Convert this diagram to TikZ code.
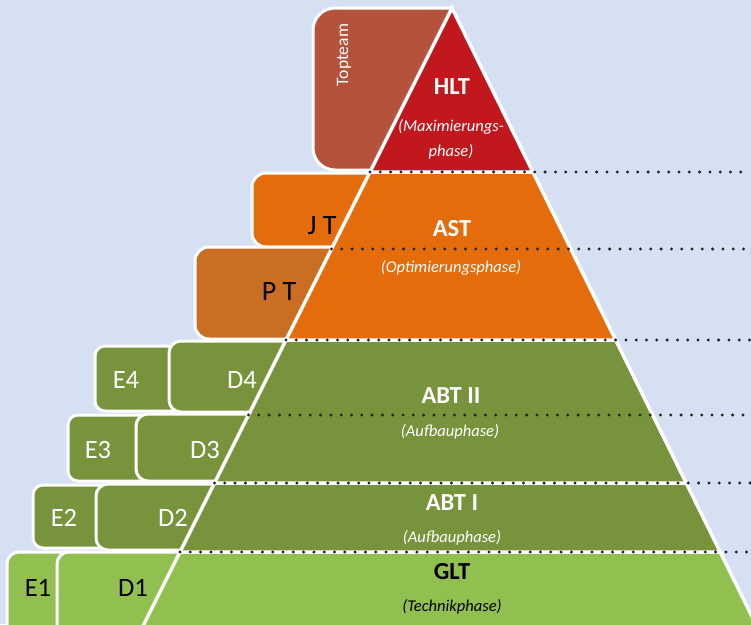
\documentclass[tikz,border=0pt]{standalone}
\usepackage{fontspec}
\setmainfont{Carlito}
\definecolor{bgblue}{RGB}{213,224,242}
\definecolor{hltred}{RGB}{192,24,29}
\definecolor{topbrown}{RGB}{180,82,60}
\definecolor{astorange}{RGB}{228,108,10}
\definecolor{ptorange}{RGB}{202,110,36}
\definecolor{darkgreen}{RGB}{119,147,60}
\definecolor{lightgreen}{RGB}{146,192,80}
\begin{document}
\begin{tikzpicture}[x=1pt,y=-1pt,
  sidebox/.style={draw=white, line width=3pt},
  layer/.style={draw=white, line width=3.5pt, line join=miter},
  dotline/.style={line width=3.3pt, line cap=round, dash pattern=on 0pt off 10.3pt, black!85},
  big/.style={font=\fontsize{24.5}{27}\selectfont\bfseries},
  phase/.style={font=\fontsize{16.5}{18}\selectfont\itshape},
  side/.style={font=\fontsize{26.5}{28}\selectfont},
  team/.style={font=\fontsize{28}{30}\selectfont}]
\fill[bgblue] (0,0) rectangle (751,624);
\useasboundingbox (0,0) rectangle (751,624);

% side boxes
\path[sidebox, fill=topbrown] (452,170) [rounded corners=22pt] -- (313,170) -- (313,8) [sharp corners] -- (452,8) -- cycle;
\path[sidebox, fill=astorange, rounded corners=14pt] (252,173) rectangle (430,247);
\path[sidebox, fill=ptorange, rounded corners=14pt] (195,247) rectangle (420,339);
\path[sidebox, fill=darkgreen, rounded corners=10pt] (95,346) rectangle (200,411);
\path[sidebox, fill=darkgreen, rounded corners=12pt] (169,341) rectangle (400,412);
\path[sidebox, fill=darkgreen, rounded corners=10pt] (68,415) rectangle (170,481);
\path[sidebox, fill=darkgreen, rounded corners=12pt] (136,414) rectangle (400,481);
\path[sidebox, fill=darkgreen, rounded corners=10pt] (33,485) rectangle (130,548);
\path[sidebox, fill=darkgreen, rounded corners=12pt] (96,484) rectangle (400,550);
\path[sidebox, fill=lightgreen, rounded corners=12pt] (7,552) rectangle (100,640);
\path[sidebox, fill=lightgreen, rounded corners=12pt] (57,552) rectangle (400,640);

% pyramid edge coordinates
\coordinate (apex) at (452,8);
\coordinate (l1) at (370,172);   \coordinate (r1) at (532.9,172);
\coordinate (l2) at (331.5,249);
\coordinate (l3) at (286,340);   \coordinate (r3) at (615.7,340);
\coordinate (l4) at (248.5,415);
\coordinate (l5) at (214.5,483); \coordinate (r5) at (686.2,483);
\coordinate (l6) at (180,552);   \coordinate (r6) at (720.2,552);
\coordinate (l7) at (136,640);   \coordinate (r7) at (763.6,640);

% layers
\path[layer, fill=lightgreen] (l6) -- (r6) -- (r7) -- (l7) -- cycle;
\path[layer, fill=darkgreen] (l5) -- (r5) -- (r6) -- (l6) -- cycle;
\path[layer, fill=darkgreen] (l3) -- (r3) -- (r5) -- (l5) -- cycle;
\path[layer, fill=astorange] (l1) -- (r1) -- (r3) -- (l3) -- cycle;
\path[layer, fill=hltred] (apex) -- (r1) -- (l1) -- cycle;

% dotted lines
\coordinate (e1) at (751,172);
\coordinate (e2) at (751,249);
\coordinate (e3) at (751,340);
\coordinate (e4) at (751,415);
\coordinate (e5) at (751,483);
\coordinate (e6) at (751,552);
\draw[dotline] (l1) -- (e1);
\draw[dotline] (l2) -- (e2);
\draw[dotline] (l3) -- (e3);
\draw[dotline] (l4) -- (e4);
\draw[dotline] (l5) -- (e5);
\draw[dotline] (l6) -- (e6);

% side labels
\node[white, rotate=90, font=\fontsize{17.5}{19}\selectfont] (topteam) at (344,55) {Topteam};
\node[team, black] (jt) at (322,226) {J T};
\node[team, black] (pt) at (279,292) {P T};
\node[side, white] (e4) at (126,380) {E4};
\node[side, white] (d4) at (242,380) {D4};
\node[side, white] (e3) at (98,450) {E3};
\node[side, white] (d3) at (205,450) {D3};
\node[side, white] (e2) at (64,518) {E2};
\node[side, white] (d2) at (173,518) {D2};
\node[side, black] (e1) at (38,588) {E1};
\node[side, black] (d1) at (133,588) {D1};

% pyramid labels
\node[big, white] (hlt) at (452,87) {HLT};
\node[phase, white] (hltp1) at (451,127) {(Maximierungs-};
\node[phase, white] (hltp2) at (451,152) {phase)};
\node[big, white] (ast) at (452,229) {AST};
\node[phase, white] (astp) at (451,268) {(Optimierungsphase)};
\node[big, white] (abt2) at (451,396) {ABT II};
\node[phase, white] (abt2p) at (450,432) {(Aufbauphase)};
\node[big, white] (abt1) at (452,503) {ABT I};
\node[phase, white] (abt1p) at (452,538) {(Aufbauphase)};
\node[big, black] (glt) at (452,572) {GLT};
\node[phase, black] (gltp) at (452,607) {(Technikphase)};
\end{tikzpicture}
\end{document}
